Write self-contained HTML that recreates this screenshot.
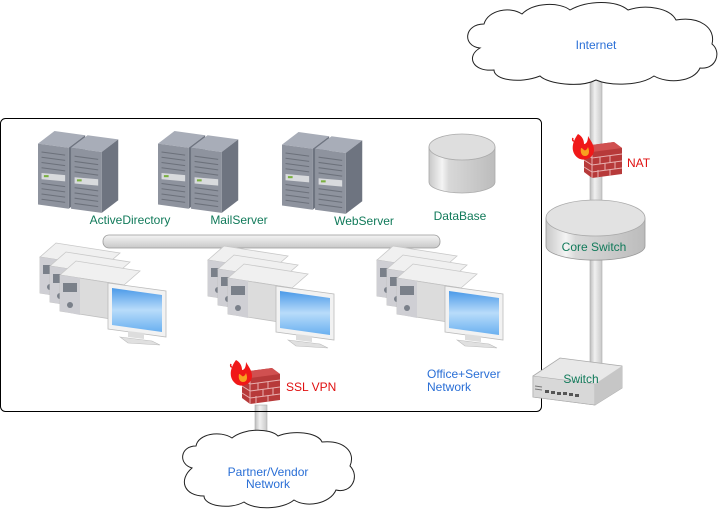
<!DOCTYPE html>
<html><head><meta charset="utf-8"><style>
html,body{margin:0;padding:0;background:#fff;width:718px;height:517px;overflow:hidden}
text{font-family:"Liberation Sans",Arial,sans-serif;font-size:12px}
</style></head><body>
<svg width="718" height="517" viewBox="0 0 718 517" xmlns="http://www.w3.org/2000/svg">
<defs>
<linearGradient id="pipeV" x1="0" x2="1" y1="0" y2="0"><stop offset="0" stop-color="#bdbdbd"/><stop offset="0.4" stop-color="#f0f0f0"/><stop offset="1" stop-color="#c8c8c8"/></linearGradient>
<linearGradient id="pipeH" x1="0" x2="0" y1="0" y2="1"><stop offset="0" stop-color="#f4f4f4"/><stop offset="1" stop-color="#c8c8c8"/></linearGradient>
<linearGradient id="cyl" x1="0" x2="1"><stop offset="0" stop-color="#c8c8c8"/><stop offset="0.2" stop-color="#f4f4f4"/><stop offset="0.3" stop-color="#d8d8d8"/><stop offset="1" stop-color="#bcbcbc"/></linearGradient>
<linearGradient id="scr" x1="0" x2="0" y1="0" y2="1"><stop offset="0" stop-color="#4a9ae8"/><stop offset="0.5" stop-color="#b8dcfa"/><stop offset="1" stop-color="#6ab0f0"/></linearGradient>
<g id="tower">
  <polygon points="0,12 14,0 40,4 26,16" fill="#a8adb8"/>
  <polygon points="26,16 40,4 40,62 26,74" fill="#6e7480"/>
  <polygon points="0,12 26,16 26,74 0,70" fill="#8e939e"/>
  <g stroke="#6c717b" stroke-width="1">
    <line x1="3" y1="20" x2="23" y2="23"/><line x1="3" y1="25" x2="23" y2="28"/><line x1="3" y1="30" x2="23" y2="33"/><line x1="3" y1="35" x2="23" y2="38"/>
    <line x1="3" y1="50" x2="23" y2="53"/><line x1="3" y1="55" x2="23" y2="58"/><line x1="3" y1="60" x2="23" y2="63"/><line x1="3" y1="65" x2="23" y2="68"/>
  </g>
  <polygon points="3,40 23,42 23,48 3,46" fill="#d8dadd"/>
  <rect x="5" y="42" width="4" height="2" fill="#7ab040"/>
</g>
<g id="server"><use href="#tower"/><use href="#tower" x="28" y="4"/></g>
<g id="pcu">
  <polygon points="0,14 16,0 80,10 64,24" fill="#f0f0f0" stroke="#c8c8c8" stroke-width="0.8"/>
  <polygon points="0,14 64,24 64,60 0,50" fill="#dcdcdc" stroke="#c0c0c0" stroke-width="0.8"/>
  <polygon points="0,14 20,17 20,54 0,50" fill="#cfcfd4"/>
  <rect x="3" y="22" width="14" height="9" fill="#7a808a"/>
  <circle cx="10" cy="44" r="3" fill="#7a808a"/>
</g>
<g id="pcs">
  <use href="#pcu" x="0" y="0"/><use href="#pcu" x="10" y="9"/><use href="#pcu" x="20" y="18"/>
  <polygon points="68,40 126,48 126,94 68,86" fill="#f2f2f2" stroke="#bbb" stroke-width="0.8"/>
  <polygon points="72,45 122,52 122,89 72,82" fill="url(#scr)"/>
  <polygon points="88,88 104,90 104,96 88,94" fill="#ddd"/>
  <polygon points="80,94 112,98 120,102 88,100" fill="#e0e0e0" stroke="#bbb" stroke-width="0.6"/>
</g>
<g id="fw">
  <polygon points="14,14 44,10 52,16 52,42 22,46 14,40" fill="#b73a3a"/>
  <polygon points="14,14 44,10 52,16 22,20" fill="#d05050"/>
  <g stroke="#e8b0b0" stroke-width="1" fill="none">
    <path d="M14,21 L22,26 L52,22 M14,28 L22,33 L52,29 M14,35 L22,40 L52,36 M22,20 L22,46"/>
    <path d="M30,25 V32 M40,24 V31 M35,31 V38 M45,30 V37 M28,38 V45 M40,37 V44"/>
  </g>
  <path d="M8,2 C2,10 0,20 8,26 C14,30 24,26 24,18 C24,12 20,8 18,4 C18,10 16,12 14,12 C14,8 12,4 8,2 Z" fill="#f01818"/>
  <path d="M11,16 C10,21 12,24 15,24 C19,24 20,20 18,15 C17,18 15,19 14,18 C13,17 12,16 11,16 Z" fill="#f8a020"/>
  <path d="M3,6 C2,8 3,9 4,9" stroke="#f01818" stroke-width="1.5" fill="none"/>
</g>
</defs>

<rect x="590" y="80" width="12" height="290" fill="url(#pipeV)" stroke="#aaa" stroke-width="0.6"/>
<rect x="255" y="405" width="12" height="40" fill="url(#pipeV)" stroke="#aaa" stroke-width="0.6"/>

<rect x="0.5" y="118.5" width="541" height="293" rx="5" fill="none" stroke="#000" stroke-width="1"/>

<path d="M480,48 C462,46 464,24 484,24 C488,10 510,6 522,14 C534,2 560,2 570,10 C588,0 616,0 628,10 C646,4 670,8 676,20 C700,16 716,28 712,44 C722,52 716,70 700,68 C694,82 668,84 654,76 C640,86 610,86 596,80 C580,88 548,84 540,76 C520,84 494,80 494,70 C472,72 466,56 480,48 Z" fill="#fff" stroke="#222" stroke-width="1"/>
<text x="596" y="49" fill="#2a6fd6" text-anchor="middle">Internet</text>

<path d="M192,468 C178,464 180,446 196,446 C198,434 220,430 232,438 C244,428 270,428 278,436 C292,430 318,432 322,442 C344,440 356,452 350,466 C360,476 352,494 336,490 C330,504 306,508 294,500 C282,510 254,510 244,502 C230,510 204,506 204,496 C184,496 178,480 192,468 Z" fill="#fff" stroke="#222" stroke-width="1"/>
<text x="268" y="476" fill="#2a6fd6" text-anchor="middle">Partner/Vendor</text>
<text x="268" y="488" fill="#2a6fd6" text-anchor="middle">Network</text>

<use href="#fw" x="570" y="132"/>
<text x="627" y="167" fill="#e01010">NAT</text>

<path d="M546,218 V246 A49,14 0 0 0 645,246 V218 Z" fill="url(#cyl)" stroke="#999" stroke-width="0.8"/>
<ellipse cx="595.5" cy="218" rx="49.5" ry="18" fill="#e2e2e2" stroke="#aaa" stroke-width="0.8"/>
<text x="594" y="251" fill="#117a5a" text-anchor="middle">Core Switch</text>

<polygon points="533,376 560,358 622,366 622,388 595,405 533,397" fill="#e8e8e8" stroke="#aaa" stroke-width="0.8"/>
<polygon points="533,376 595,384 595,405 533,397" fill="#d8d8d8" stroke="#aaa" stroke-width="0.6"/>
<polygon points="595,384 622,366 622,388 595,405" fill="#c6c6c6"/>
<g fill="#555"><rect x="545" y="390" width="4" height="3"/><rect x="551" y="391" width="4" height="3"/><rect x="557" y="392" width="4" height="3"/><rect x="563" y="392" width="4" height="3"/><rect x="569" y="393" width="4" height="3"/><rect x="575" y="394" width="4" height="3"/></g>
<g stroke="#777"><line x1="535" y1="386" x2="542" y2="387"/><line x1="535" y1="389" x2="542" y2="390"/></g>
<text x="581" y="383" fill="#117a5a" text-anchor="middle">Switch</text>

<g transform="translate(38,131) scale(1.18,1.05)"><use href="#server"/></g>
<g transform="translate(158,131) scale(1.18,1.05)"><use href="#server"/></g>
<g transform="translate(282,132) scale(1.18,1.05)"><use href="#server"/></g>
<text x="130" y="224" fill="#117a5a" text-anchor="middle">ActiveDirectory</text>
<text x="239" y="224" fill="#117a5a" text-anchor="middle">MailServer</text>
<text x="364" y="225" fill="#117a5a" text-anchor="middle">WebServer</text>

<path d="M429,147 V182 A33,11 0 0 0 495,182 V147 Z" fill="url(#cyl)" stroke="#aaa" stroke-width="0.8"/>
<ellipse cx="462" cy="147" rx="33" ry="13" fill="#dedede" stroke="#aaa" stroke-width="0.8"/>
<text x="460" y="220" fill="#117a5a" text-anchor="middle">DataBase</text>

<rect x="103" y="235" width="337" height="13" rx="6" fill="url(#pipeH)" stroke="#999" stroke-width="0.8"/>

<use href="#pcs" x="40" y="243"/>
<use href="#pcs" x="208" y="246"/>
<use href="#pcs" x="377" y="246"/>

<use href="#fw" x="228" y="358"/>
<text x="286" y="391" fill="#e01010">SSL VPN</text>

<text x="427" y="378" fill="#2a6fd6">Office+Server</text>
<text x="427" y="391" fill="#2a6fd6">Network</text>
</svg>
</body></html>
